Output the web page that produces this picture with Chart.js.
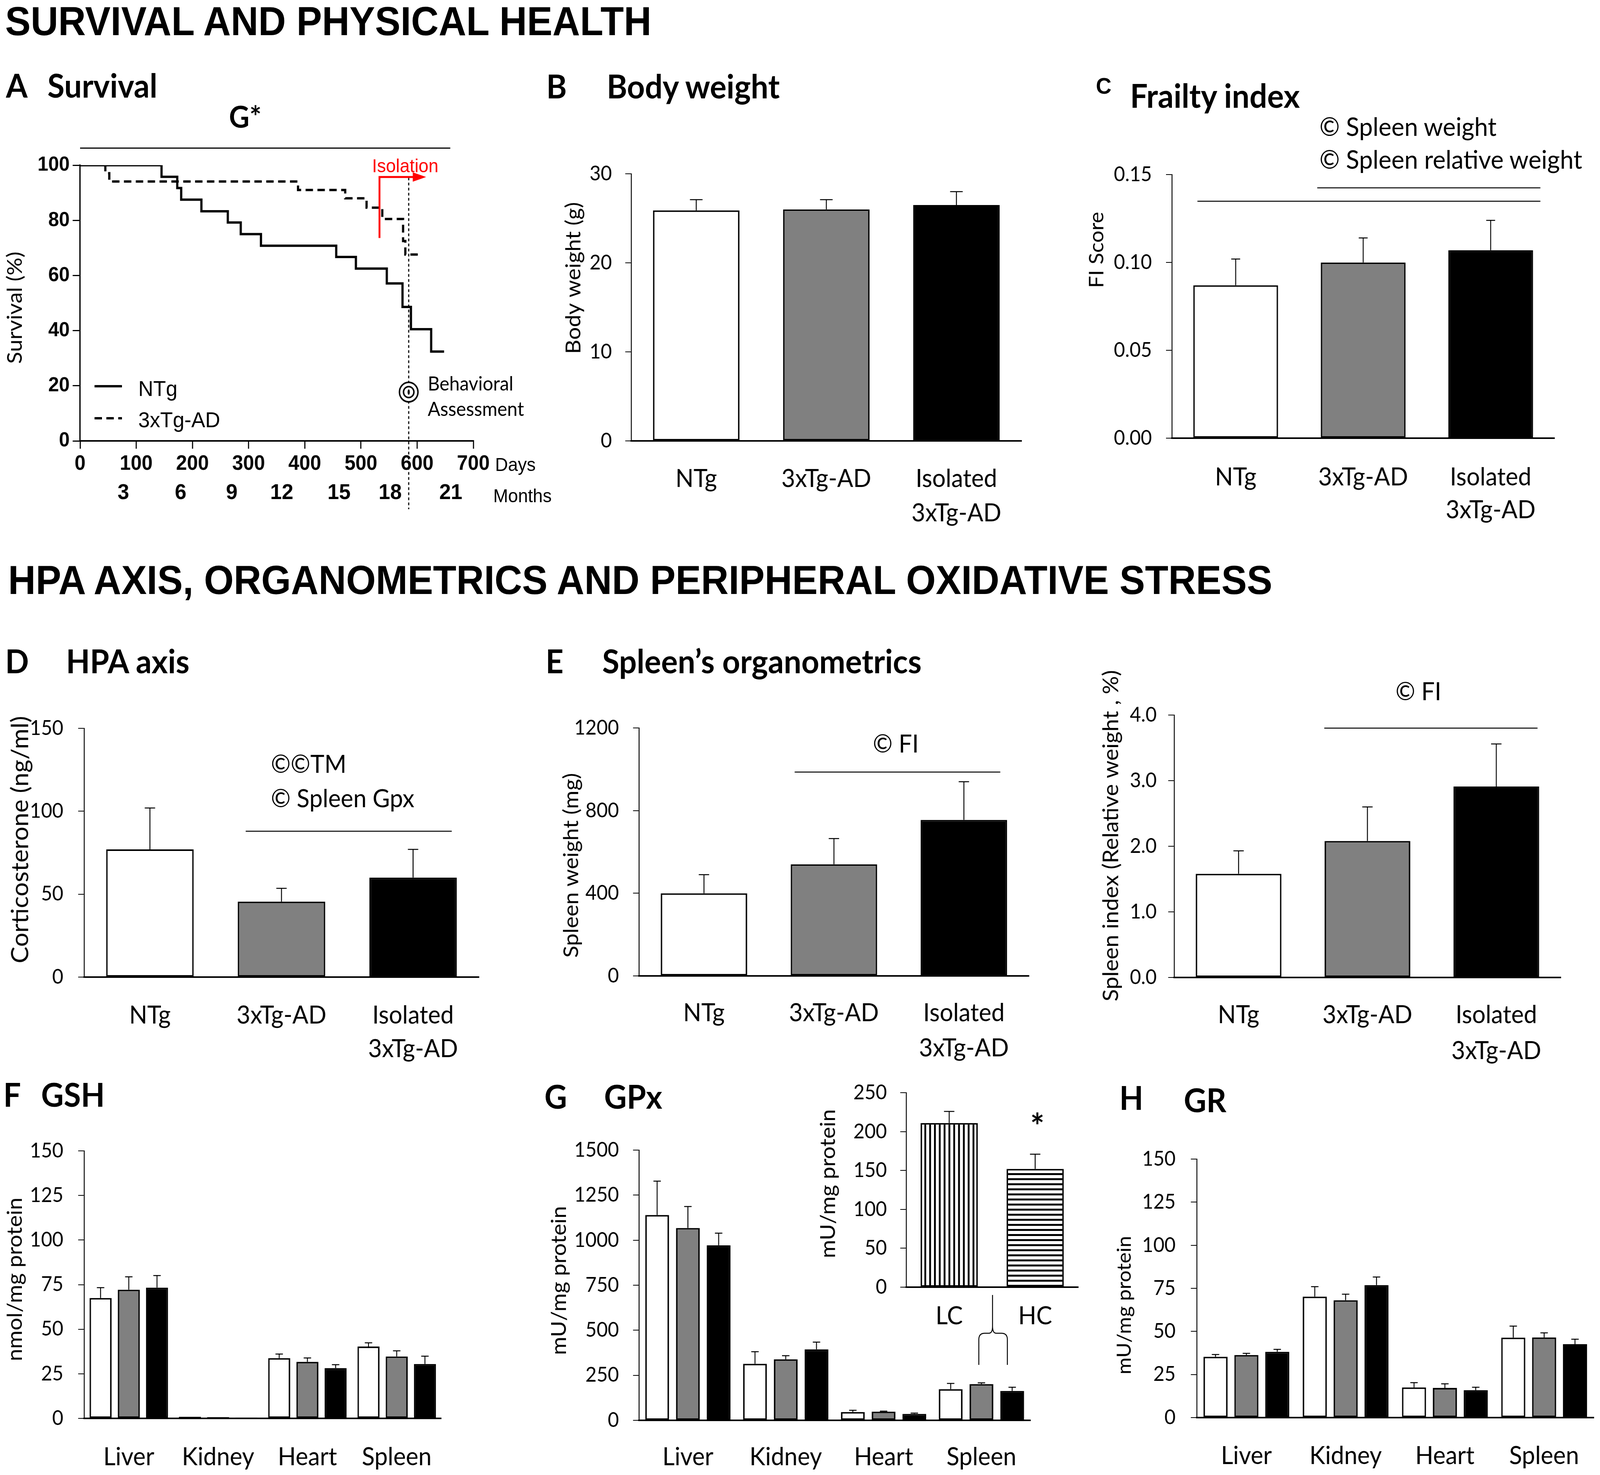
<!DOCTYPE html>
<html>
<head>
<meta charset="utf-8">
<script src="https://cdn.jsdelivr.net/npm/chart.js@4.4.1/dist/chart.umd.min.js"></script>
<style>
  html, body { margin: 0; background: #fff; overflow: hidden; }
  #page { position: absolute; left: 0; top: 0; width: 4317px; height: 3777px; background: #fff; transform-origin: 0 0; }
  .t { position: absolute; white-space: nowrap; color: #000; line-height: 1; }
  .box { position: absolute; }
</style>
</head>
<body>
<div id="page"></div>
<script>
// ---- data ----
const groups = ['NTg', '3xTg-AD', ['Isolated', '3xTg-AD']];
const organs = ['Liver', 'Kidney', 'Heart', 'Spleen'];

// A: Kaplan-Meier steps (day of event, survival % after it)
const ntgDays = [0, 145, 173, 180, 216, 263, 286, 322, 456, 491, 546, 574, 589, 625, 648];
const ntgSurv = [100, 95.8, 91.7, 87.5, 83.3, 79.2, 75, 70.8, 66.7, 62.5, 57.1, 48.6, 40.5, 32.4, 32.4];
const tgDays = [0, 45, 52, 388, 472, 510, 538, 575, 579, 606];
const tgSurv = [100, 97.1, 94.1, 91.0, 88.0, 84.6, 80.5, 72.5, 67.6, 67.6];
const monthLabels = [3, 6, 9, 12, 15, 18, 21];
const monthTickDays = [77, 179, 270, 359, 461, 552, 660];

const bodyWeight = [25.9, 26.0, 26.5];
const bodyWeightErr = [1.2, 1.1, 1.5];
const frailty = [0.087, 0.100, 0.107];
const frailtyErr = [0.015, 0.014, 0.017];
const corticosterone = [77, 45.5, 60];
const corticosteroneErr = [25, 8, 17];
const spleenWeight = [400, 540, 755];
const spleenWeightErr = [90, 125, 185];
const spleenIndex = [1.58, 2.08, 2.91];
const spleenIndexErr = [0.35, 0.52, 0.65];

const gshNTg = [67.5, 0.9, 33.8, 40.3], gshNTgErr = [5.8, 0, 2.3, 2.1];
const gshTg = [72.2, 0.7, 31.7, 34.7], gshTgErr = [7.2, 0, 2.2, 3.2];
const gshIso = [73.3, 0.5, 28.2, 30.5], gshIsoErr = [6.8, 0, 1.9, 4.4];

const gpxNTg = [1140, 314, 46, 173], gpxNTgErr = [188, 67, 10, 32];
const gpxTg = [1068, 339, 48, 201], gpxTgErr = [119, 20, 3, 7];
const gpxIso = [972, 394, 36, 163], gpxIsoErr = [67, 40, 4, 21];
const insetLabels = ['LC', 'HC'];
const gpxSpleenInset = [211, 152], gpxSpleenInsetErr = [15, 19];

const grNTg = [35.3, 70.2, 17.5, 46.4], grNTgErr = [1.3, 5.8, 2.8, 6.7];
const grTg = [36.3, 68.1, 17.2, 46.5], grTgErr = [1.0, 3.5, 2.4, 2.7];
const grIso = [38.2, 76.9, 15.9, 42.6], grIsoErr = [1.4, 4.7, 1.7, 2.9];

const fills = ['#ffffff', '#808080', '#000000'];
const LATO = 'Lato';
const ARIAL = '"Liberation Sans", Arial, sans-serif';

Chart.defaults.color = '#000';
Chart.defaults.font.family = LATO;

// the figure is laid out on a 4317x3777 sheet, stretched to whatever the window really is
const page = document.getElementById('page');
const sx = (window.innerWidth || 4317) / 4317, sy = (window.innerHeight || 3777) / 3777;
page.style.transform = 'scale(' + sx + ',' + sy + ')';

// ---- helpers ----
function text(str, x, yc, size, o = {}) {
  const d = document.createElement('div');
  d.className = 't';
  d.textContent = str;
  const fam = o.fam || LATO;
  const k = fam === LATO ? 0.53 : 0.49;
  d.style.left = x + 'px';
  d.style.top = (yc - k * size) + 'px';
  d.style.font = (o.bold ? 'bold ' : '') + size + 'px ' + fam;
  if (o.color) d.style.color = o.color;
  if (o.center) d.style.transform = 'translateX(-50%)';
  page.appendChild(d);
}

function panel(box, pad) {
  const wrap = document.createElement('div');
  wrap.className = 'box';
  const left = box.l - pad.l, top = box.t - pad.t;
  wrap.style.left = left + 'px';
  wrap.style.top = top + 'px';
  wrap.style.width = (box.r - box.l + pad.l + pad.r) + 'px';
  wrap.style.height = (box.b - box.t + pad.t + pad.b) + 'px';
  const cv = document.createElement('canvas');
  wrap.appendChild(cv);
  page.appendChild(wrap);
  return { cv, left, top };
}

const errorBars = {
  id: 'errorBars',
  afterDatasetsDraw(chart, args, o) {
    const c = chart.ctx, y = chart.scales.y;
    chart.data.datasets.forEach((ds, i) => {
      if (!ds.errors) return;
      chart.getDatasetMeta(i).data.forEach((bar, j) => {
        const e = ds.errors[j];
        if (!e) return;
        const top = y.getPixelForValue(ds.data[j] + e);
        c.save();
        c.strokeStyle = '#000';
        c.lineWidth = 2.5;
        c.beginPath();
        c.moveTo(bar.x, bar.y);
        c.lineTo(bar.x, top);
        c.moveTo(bar.x - o.cap, top);
        c.lineTo(bar.x + o.cap, top);
        c.stroke();
        c.restore();
      });
    });
  }
};

const brackets = {
  id: 'brackets',
  afterDraw(chart, args, o) {
    const { x, y } = chart.scales, c = chart.ctx;
    c.save();
    c.strokeStyle = '#000';
    c.lineWidth = 2.5;
    (o.lines || []).forEach(l => {
      const py = y.getPixelForValue(l[2]);
      c.beginPath();
      c.moveTo(x.getPixelForValue(l[0]), py);
      c.lineTo(x.getPixelForValue(l[1]), py);
      c.stroke();
    });
    c.restore();
  }
};

const yTitle = {
  id: 'yTitle',
  afterDraw(chart, args, o) {
    if (!o.text) return;
    const c = chart.ctx;
    c.save();
    c.translate(o.x, o.y);
    c.rotate(-Math.PI / 2);
    c.font = o.size + 'px ' + LATO;
    c.fillStyle = '#000';
    c.textAlign = 'center';
    c.textBaseline = 'middle';
    c.fillText(o.text, 0, 0);
    c.restore();
  }
};

function barChart(p) {
  const { cv, left, top } = panel(p.box, p.pad);
  return new Chart(cv, {
    type: 'bar',
    data: { labels: p.labels, datasets: p.datasets },
    options: {
      responsive: true, maintainAspectRatio: false, animation: false, devicePixelRatio: 1,
      layout: { padding: { top: p.pad.t, right: p.pad.r, left: 0, bottom: 0 } },
      datasets: { bar: { categoryPercentage: p.catPct || 1, barPercentage: p.barPct || 0.665,
        borderColor: '#000', borderWidth: 4, borderSkipped: false } },
      plugins: {
        legend: { display: false }, tooltip: { enabled: false },
        errorBars: { cap: p.cap || 16 },
        brackets: { lines: p.brackets || [] },
        yTitle: { text: p.title, x: p.titleX - left, y: p.titleY - top, size: p.titleSize || 57 }
      },
      scales: {
        x: {
          grid: { display: false, drawTicks: false },
          border: { color: '#000', width: 4 },
          ticks: { color: '#000', font: { family: LATO, size: 64, lineHeight: p.lineH || 1.38 },
            padding: p.labelPad, maxRotation: 0, autoSkip: false },
          afterFit: s => { s.height = p.pad.b; }
        },
        y: {
          min: p.min, max: p.max,
          grid: { display: true, drawOnChartArea: false, drawTicks: true, tickLength: 16, color: '#000', lineWidth: 2 },
          border: { color: '#000', width: 2.5 },
          ticks: { stepSize: p.step, color: '#000', font: { family: LATO, size: 52 }, padding: p.tickPad,
            callback: p.fmt || (v => v) },
          afterFit: s => { s.width = p.pad.l; }
        }
      }
    },
    plugins: [errorBars, brackets, yTitle]
  });
}

function single(values, errs) {
  return [{ data: values, errors: errs, backgroundColor: fills }];
}
function grouped(a, ea, b, eb, c, ec) {
  return [
    { data: a, errors: ea, backgroundColor: fills[0] },
    { data: b, errors: eb, backgroundColor: fills[1] },
    { data: c, errors: ec, backgroundColor: fills[2] }
  ];
}

// ---- section headings ----
text('SURVIVAL AND PHYSICAL HEALTH', 14, 46, 103, { fam: ARIAL, bold: true });
text('HPA AXIS, ORGANOMETRICS AND PERIPHERAL OXIDATIVE STRESS', 22, 1477, 103, { fam: ARIAL, bold: true });

// ---- A: survival ----
text('A', 16, 212, 84, { bold: true });
text('Survival', 128, 212, 84, { bold: true });
text('G*', 618, 292, 76, { bold: true });
text('Isolation', 1004, 421, 48, { fam: ARIAL, color: '#f00' });
text('NTg', 373, 989, 56, { fam: ARIAL });
text('3xTg-AD', 373, 1069, 56, { fam: ARIAL });
text('Behavioral', 1154, 977, 50);
text('Assessment', 1154, 1042, 50);
text('Days', 1336, 1186, 48, { fam: ARIAL });
text('Months', 1331, 1266, 48, { fam: ARIAL });

const survivalMarks = {
  id: 'survivalMarks',
  afterDraw(chart, args, o) {
    const { x, y } = chart.scales, c = chart.ctx;
    c.save();
    c.strokeStyle = '#000';
    c.lineWidth = 3;
    c.beginPath();
    c.moveTo(x.getPixelForValue(o.bracket[0]), y.getPixelForValue(o.bracket[2]));
    c.lineTo(x.getPixelForValue(o.bracket[1]), y.getPixelForValue(o.bracket[2]));
    c.stroke();

    const ax = x.getPixelForValue(o.assessDay);
    c.setLineDash([7, 6]);
    c.beginPath();
    c.moveTo(ax, y.getPixelForValue(o.assessTop));
    c.lineTo(ax, chart.height);
    c.stroke();
    c.setLineDash([]);
    const ay = y.getPixelForValue(o.assessMark);
    c.fillStyle = '#fff';
    c.beginPath(); c.arc(ax, ay, 27, 0, 2 * Math.PI); c.fill();
    c.lineWidth = 4;
    c.beginPath(); c.arc(ax, ay, 25, 0, 2 * Math.PI); c.stroke();
    c.beginPath(); c.arc(ax, ay, 14, 0, 2 * Math.PI); c.stroke();
    c.fillStyle = '#000';
    c.beginPath(); c.ellipse(ax, ay, 3, 7, 0, 0, 2 * Math.PI); c.fill();

    const ix = x.getPixelForValue(o.isoDay), tip = x.getPixelForValue(o.isoEnd), iy = y.getPixelForValue(o.isoTop);
    c.strokeStyle = '#f00';
    c.fillStyle = '#f00';
    c.lineWidth = 5;
    c.beginPath();
    c.moveTo(ix, y.getPixelForValue(o.isoBottom));
    c.lineTo(ix, iy);
    c.lineTo(tip - 30, iy);
    c.stroke();
    c.beginPath();
    c.moveTo(tip, iy); c.lineTo(tip - 36, iy - 12); c.lineTo(tip - 36, iy + 12); c.closePath();
    c.fill();

    // legend samples
    c.strokeStyle = '#000';
    c.lineWidth = 6;
    c.beginPath(); c.moveTo(o.legX[0], o.legY[0]); c.lineTo(o.legX[1], o.legY[0]); c.stroke();
    c.setLineDash([20, 12]);
    c.beginPath(); c.moveTo(o.legX[0], o.legY[1]); c.lineTo(o.legX[1], o.legY[1]); c.stroke();
    c.restore();
  }
};

(function () {
  const box = { l: 216, t: 423, r: 1277, b: 1129 }, pad = { l: 216, t: 70, r: 60, b: 175 };
  const { cv, left, top } = panel(box, pad);
  const tickGrid = { drawOnChartArea: false, drawTicks: true, tickLength: 20, color: '#000', lineWidth: 3 };
  new Chart(cv, {
    type: 'line',
    data: {
      datasets: [
        { label: 'NTg', data: ntgDays.map((d, i) => ({ x: d, y: ntgSurv[i] })), stepped: 'before',
          borderColor: '#000', borderWidth: 6, pointRadius: 0, fill: false },
        { label: '3xTg-AD', data: tgDays.map((d, i) => ({ x: d, y: tgSurv[i] })), stepped: 'before',
          borderColor: '#000', borderWidth: 6, borderDash: [20, 12], pointRadius: 0, fill: false }
      ]
    },
    options: {
      responsive: true, maintainAspectRatio: false, animation: false, devicePixelRatio: 1,
      layout: { padding: { top: pad.t, right: pad.r, left: 0, bottom: 0 } },
      plugins: {
        legend: { display: false }, tooltip: { enabled: false },
        yTitle: { text: 'Survival (%)', x: 41 - left, y: 788 - top, size: 57 },
        survivalMarks: {
          bracket: [0, 659, 106.2],
          assessDay: 585, assessTop: 95.5, assessMark: 17.7,
          isoDay: 533, isoBottom: 73.6, isoTop: 95.7, isoEnd: 616,
          legX: [255 - left, 329 - left], legY: [989 - top, 1071 - top]
        }
      },
      scales: {
        x: {
          type: 'linear', position: 'bottom', min: 0, max: 700, weight: 0,
          grid: tickGrid, border: { color: '#000', width: 4 },
          ticks: { stepSize: 100, color: '#000', font: { family: ARIAL, size: 53, weight: 'bold' }, padding: 8 },
          afterFit: s => { s.height = 100; }
        },
        months: {
          type: 'linear', position: 'bottom', min: 0, max: 700, weight: 1,
          grid: { display: false, drawTicks: false }, border: { display: false },
          afterBuildTicks: s => { s.ticks = monthTickDays.map(v => ({ value: v })); },
          ticks: { autoSkip: false, color: '#000', font: { family: ARIAL, size: 56, weight: 'bold' }, padding: 0,
            callback: (v, i) => monthLabels[i] },
          afterFit: s => { s.height = 75; }
        },
        y: {
          min: 0, max: 100,
          grid: tickGrid, border: { color: '#000', width: 3.5 },
          ticks: { stepSize: 20, color: '#000', font: { family: ARIAL, size: 52, weight: 'bold' }, padding: 8 },
          afterFit: s => { s.width = pad.l; }
        }
      }
    },
    plugins: [survivalMarks, yTitle]
  });
})();

// ---- B: body weight ----
text('B', 1474, 214, 84, { bold: true });
text('Body weight', 1637, 214, 84, { bold: true });
barChart({
  box: { l: 1703, t: 423, r: 2756, b: 1129 }, pad: { l: 195, t: 45, r: 20, b: 230 },
  labels: groups, datasets: single(bodyWeight, bodyWeightErr),
  min: 0, max: 30, step: 10, tickPad: 36, labelPad: 53,
  title: 'Body weight (g)', titleX: 1548, titleY: 712, titleSize: 57, cap: 17
});

// ---- C: frailty index ----
text('C', 2957, 214, 58, { fam: ARIAL, bold: true });
text('Frailty index', 3049, 238, 84, { bold: true });
text('\u00A9 Spleen weight', 3560, 318, 66);
text('\u00A9 Spleen relative weight', 3560, 402, 66);
barChart({
  box: { l: 3162, t: 423, r: 4194, b: 1122 }, pad: { l: 243, t: 45, r: 20, b: 230 },
  labels: groups, datasets: single(frailty, frailtyErr),
  min: 0, max: 0.15, step: 0.05, tickPad: 38, labelPad: 58, lineH: 1.32, fmt: v => v.toFixed(2),
  title: 'FI Score', titleX: 2959, titleY: 640, titleSize: 55, cap: 12,
  brackets: [[-0.30, 2.39, 0.1349], [0.64, 2.39, 0.1425]]
});

// ---- D: HPA axis ----
text('D', 14, 1686, 84, { bold: true });
text('HPA axis', 178, 1686, 84, { bold: true });
text('\u00A9\u00A9TM', 731, 1950, 64);
text('\u00A9 Spleen Gpx', 731, 2038, 64);
barChart({
  box: { l: 227, t: 1854, r: 1292, b: 2502 }, pad: { l: 215, t: 60, r: 20, b: 230 },
  labels: groups, datasets: single(corticosterone, corticosteroneErr),
  min: 0, max: 150, step: 50, tickPad: 40, labelPad: 55, lineH: 1.35,
  title: 'Corticosterone (ng/ml)', titleX: 55, titleY: 2150, titleSize: 64, cap: 14,
  brackets: [[0.728, 2.294, 88]]
});

// ---- E: spleen organometrics ----
text('E', 1472, 1686, 84, { bold: true });
text('Spleen\u2019s organometrics', 1625, 1686, 84, { bold: true });
text('\u00A9 FI', 2417, 1898, 64, { center: true });
barChart({
  box: { l: 1724, t: 1840, r: 2776, b: 2499 }, pad: { l: 222, t: 45, r: 20, b: 230 },
  labels: groups, datasets: single(spleenWeight, spleenWeightErr),
  min: 0, max: 1200, step: 400, tickPad: 38, labelPad: 51, lineH: 1.4,
  title: 'Spleen weight (mg)', titleX: 1542, titleY: 2216, titleSize: 57, cap: 14,
  brackets: [[0.698, 2.28, 987]]
});

text('\u00A9 FI', 3827, 1764, 64, { center: true });
barChart({
  box: { l: 3168, t: 1831, r: 4211, b: 2503 }, pad: { l: 210, t: 150, r: 20, b: 230 },
  labels: groups, datasets: single(spleenIndex, spleenIndexErr),
  min: 0, max: 4, step: 1, tickPad: 31, labelPad: 51, lineH: 1.43, fmt: v => v.toFixed(1),
  title: 'Spleen index (Relative weight , %)', titleX: 2998, titleY: 2140, titleSize: 58, cap: 14,
  brackets: [[0.665, 2.32, 3.80]]
});

// ---- F: GSH ----
text('F', 9, 2796, 84, { bold: true });
text('GSH', 111, 2796, 84, { bold: true });
barChart({
  box: { l: 227, t: 2921, r: 1202, b: 3632 }, pad: { l: 224, t: 45, r: 20, b: 140 },
  labels: organs, datasets: grouped(gshNTg, gshNTgErr, gshTg, gshTgErr, gshIso, gshIsoErr),
  catPct: 0.948, barPct: 0.78,
  min: 0, max: 150, step: 25, tickPad: 40, labelPad: 55,
  title: 'nmol/mg protein', titleX: 41, titleY: 3276, titleSize: 57, cap: 10
});

// ---- G: GPx with LC/HC inset ----
text('G', 1469, 2801, 84, { bold: true });
text('GPx', 1630, 2801, 84, { bold: true });
barChart({
  box: { l: 1724, t: 2921, r: 2780, b: 3637 }, pad: { l: 255, t: 45, r: 20, b: 135 },
  labels: organs, datasets: grouped(gpxNTg, gpxNTgErr, gpxTg, gpxTgErr, gpxIso, gpxIsoErr),
  catPct: 0.943, barPct: 0.77,
  min: 0, max: 1500, step: 250, tickPad: 38, labelPad: 50,
  title: 'mU/mg protein', titleX: 1509, titleY: 3279, titleSize: 57, cap: 10
});

function stripes(vertical) {
  const s = document.createElement('canvas');
  s.width = 13; s.height = 13;
  const g = s.getContext('2d');
  g.fillStyle = '#fff'; g.fillRect(0, 0, 13, 13);
  g.fillStyle = '#000';
  if (vertical) g.fillRect(0, 0, 5, 13); else g.fillRect(0, 0, 13, 5);
  return g.createPattern(s, 'repeat');
}
barChart({
  box: { l: 2445, t: 2771, r: 2909, b: 3296 }, pad: { l: 250, t: 40, r: 10, b: 120 },
  labels: insetLabels,
  datasets: [{ data: gpxSpleenInset, errors: gpxSpleenInsetErr, backgroundColor: [stripes(true), stripes(false)] }],
  min: 0, max: 250, step: 50, tickPad: 36, labelPad: 30,
  title: 'mU/mg protein', titleX: 2235, titleY: 3031, titleSize: 57, cap: 14
});
text('*', 2799, 2876, 90, { bold: true, center: true });

// brace linking the spleen bars to the inset
page.insertAdjacentHTML('beforeend',
  '<svg style="position:absolute;left:0;top:0" width="4317" height="3777">' +
  '<path d="M2641 3495 L2641 3430 Q2641 3414 2657 3414 L2668 3414 Q2678 3414 2678 3396 L2678 3316 ' +
  'M2678 3396 Q2678 3414 2688 3414 L2702 3414 Q2718 3414 2718 3430 L2718 3495" ' +
  'fill="none" stroke="#000" stroke-width="2.5"/></svg>');

// ---- H: GR ----
text('H', 3020, 2804, 84, { bold: true });
text('GR', 3194, 2810, 84, { bold: true });
barChart({
  box: { l: 3229, t: 2941, r: 4310, b: 3630 }, pad: { l: 233, t: 45, r: 5, b: 140 },
  labels: organs, datasets: grouped(grNTg, grNTgErr, grTg, grTgErr, grIso, grIsoErr),
  catPct: 0.933, barPct: 0.78,
  min: 0, max: 150, step: 25, tickPad: 41, labelPad: 54,
  title: 'mU/mg protein', titleX: 3034, titleY: 3342, titleSize: 53, cap: 10
});
</script>
</body>
</html>
